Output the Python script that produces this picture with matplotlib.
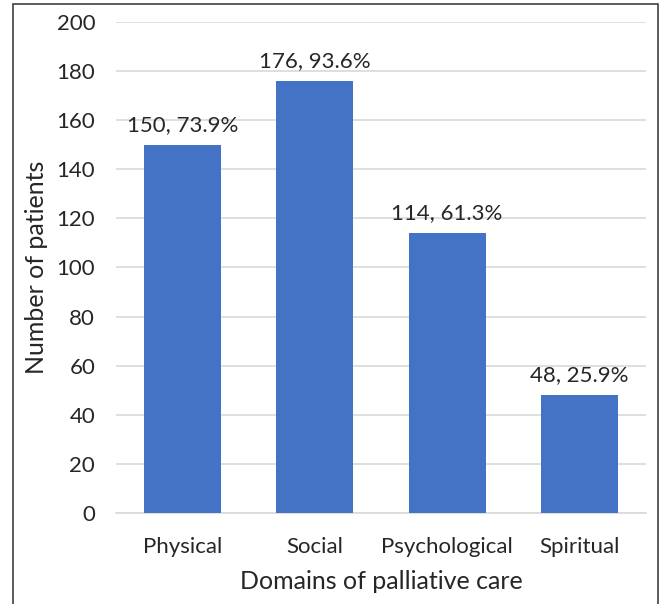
import matplotlib
matplotlib.use('Agg')
import matplotlib.pyplot as plt
from matplotlib.patches import Rectangle

# data
domains = ['Physical', 'Social', 'Psychological', 'Spiritual']
patients = [150, 176, 114, 48]
percents = [73.9, 93.6, 61.3, 25.9]
yticks = [0, 20, 40, 60, 80, 100, 120, 140, 160, 180, 200]

plt.rcParams['font.family'] = ['Lato', 'DejaVu Sans']

fig = plt.figure(figsize=(6.59, 6.04), dpi=100)
ax = fig.add_axes([0.176, 0.1507, 0.804, 0.8129])

x = list(range(len(domains)))
bars = ax.bar(x, patients, width=0.58, color='#4472C4', zorder=3)

for b, n, p in zip(bars, patients, percents):
    ax.text(b.get_x() + b.get_width() / 2, n + 4, '{}, {}%'.format(n, p),
            ha='center', va='bottom', fontsize=16, color='#262626')

ax.set_xlim(-0.5, len(domains) - 0.5)
ax.set_ylim(0, 200)
ax.set_yticks(yticks)
ax.set_xticks(x)
ax.set_xticklabels(domains)
ax.tick_params(axis='both', length=0, labelsize=16, colors='#262626')
ax.tick_params(axis='y', pad=15)
ax.tick_params(axis='x', pad=17)
ax.yaxis.grid(True, color='#D9D9D9', lw=1.2, zorder=0)
for s in ['top', 'right', 'left']:
    ax.spines[s].set_visible(False)
ax.spines['bottom'].set_color('#D9D9D9')
ax.spines['bottom'].set_linewidth(1.2)

ax.set_xlabel('Domains of palliative care', fontsize=18, color='#262626', labelpad=10)
ax.set_ylabel('Number of patients', fontsize=18, color='#262626', labelpad=6)

# outer frame
fig.patches.append(Rectangle((13 / 659, -0.01), 645 / 659, 1.01 - 4 / 604,
                             transform=fig.transFigure, fill=False,
                             edgecolor='#404040', lw=1.2))

fig.savefig('out.png', dpi=100)
